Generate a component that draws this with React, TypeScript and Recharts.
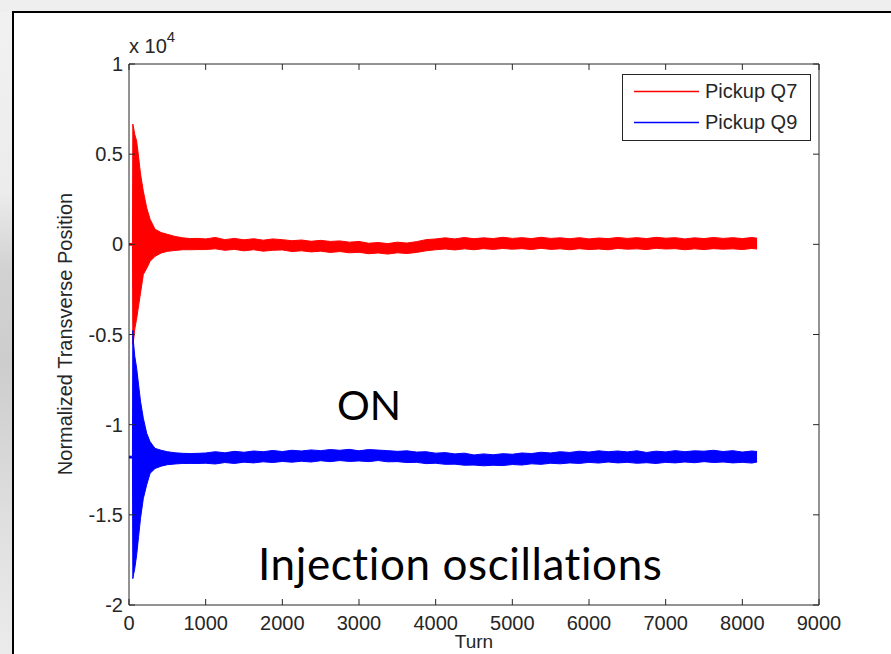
import React from "react";
import { ComposedChart, Area, XAxis, YAxis, Legend, ReferenceLine } from "recharts";

// turn numbers where the envelope of each pickup signal was read
const turns = [
  0, 45, 50, 60, 75, 100, 125, 150, 187, 231, 275, 340, 420, 500, 600, 700, 800, 900,
  1000, 1125, 1250, 1375, 1500, 1625, 1750, 1875,
  2000, 2125, 2250, 2375, 2500, 2625, 2750, 2875,
  3000, 3125, 3250, 3375, 3500, 3625, 3750, 3875,
  4000, 4125, 4250, 4375, 4500, 4625, 4750, 4875,
  5000, 5125, 5250, 5375, 5500, 5625, 5750, 5875,
  6000, 6125, 6250, 6375, 6500, 6625, 6750, 6875,
  7000, 7125, 7250, 7375, 7500, 7625, 7750, 7875,
  8000, 8125, 8192,
];

// Pickup Q7 (red) upper / lower envelope
const q7High = [
  50, 50, 6667, 6450, 6100, 5720, 4850, 3900, 2944, 2017, 1390, 833, 650, 555, 440, 360, 320, 330,
  300, 380, 260, 330, 250, 310, 230, 300,
  260, 200, 240, 170, 220, 160, 190, 120,
  160, 60, 100, 40, 120, 70, 150, 260,
  300, 360, 300, 380, 310, 360, 320, 390,
  330, 370, 320, 390, 330, 360, 310, 370,
  300, 350, 320, 380, 330, 370, 320, 390,
  340, 370, 300, 360, 320, 380, 330, 370,
  320, 380, 340,
];
const q7Low = [
  -50, -50, -5555, -5300, -4700, -4110, -3400, -2700, -1670, -1330, -944, -667, -480, -390, -340, -300, -300, -290,
  -290, -250, -330, -280, -360, -300, -380, -330,
  -310, -400, -360, -420, -380, -450, -400, -470,
  -440, -520, -480, -540, -470, -510, -450, -360,
  -300, -260, -310, -250, -300, -240, -280, -230,
  -270, -240, -290, -220, -280, -250, -300, -240,
  -290, -260, -300, -230, -270, -250, -290, -220,
  -260, -240, -300, -250, -290, -240, -270, -250,
  -290, -230, -260,
];

// Pickup Q9 (blue) upper / lower envelope
const q9High = [
  -11750, -11750, -4778, -5500, -6200, -6870, -7800, -8700, -9650, -10480, -10944, -11315, -11420, -11500, -11560, -11590, -11600, -11590,
  -11570, -11500, -11560, -11480, -11530, -11460, -11500, -11430,
  -11490, -11420, -11460, -11400, -11440, -11380, -11420, -11370,
  -11450, -11380, -11410, -11440, -11480, -11450, -11520, -11500,
  -11580, -11550, -11620, -11580, -11680, -11620, -11670, -11610,
  -11640, -11570, -11600, -11530, -11570, -11500, -11540, -11470,
  -11520, -11450, -11500, -11460, -11510, -11450, -11540, -11470,
  -11510, -11440, -11500, -11450, -11470, -11420, -11490, -11440,
  -11520, -11460, -11490,
];
const q9Low = [
  -11850, -11850, -18540, -18300, -17980, -17220, -16200, -15200, -14090, -13330, -12700, -12430, -12300, -12220, -12180, -12150, -12150, -12150,
  -12140, -12180, -12100, -12150, -12080, -12120, -12060, -12100,
  -12040, -12080, -12030, -12070, -12000, -12050, -11990, -12040,
  -12010, -12050, -11990, -12060, -12050, -12100, -12090, -12160,
  -12140, -12200, -12190, -12250, -12240, -12280, -12250, -12270,
  -12210, -12240, -12170, -12200, -12140, -12170, -12120, -12150,
  -12090, -12130, -12070, -12120, -12090, -12140, -12110, -12150,
  -12090, -12120, -12070, -12110, -12050, -12100, -12070, -12120,
  -12090, -12130, -12070,
];

const seriesNames = ["Pickup Q7", "Pickup Q9"];
const seriesColors = ["#ff0000", "#0000ff"];

const xTicks = [0, 1000, 2000, 3000, 4000, 5000, 6000, 7000, 8000, 9000];
const yTicks = [-20000, -15000, -10000, -5000, 0, 5000, 10000];
const yTickLabels = ["-2", "-1.5", "-1", "-0.5", "0", "0.5", "1"];

const X_MAX = 9000;
const Y_MIN = -20000;
const Y_MAX = 10000;

const data = turns.map((t, i) => ({
  turn: t,
  q7: [q7Low[i], q7High[i]],
  q9: [q9Low[i], q9High[i]],
}));

const FONT = "'Liberation Sans', Arial, sans-serif";
const INK = "#262626";
const TICK = 6;
// inward tick length for the mirrored top/right ticks, in data units (~6px)
const TICK_Y = 330;
const TICK_X = 78;

const BottomTick = (props: any) => {
  const { x, y, payload } = props;
  return (
    <g>
      <line x1={x} y1={y} x2={x} y2={y - TICK} stroke={INK} />
      <text x={x} y={y + 25} textAnchor="middle" fontSize={20} fontFamily={FONT} fill={INK}>
        {payload.value}
      </text>
    </g>
  );
};

const LeftTick = (props: any) => {
  const { x, y, payload } = props;
  const idx = yTicks.indexOf(payload.value);
  return (
    <g>
      <line x1={x} y1={y} x2={x + TICK} y2={y} stroke={INK} />
      <text x={x - 6} y={y + 7} textAnchor="end" fontSize={20} fontFamily={FONT} fill={INK}>
        {yTickLabels[idx]}
      </text>
    </g>
  );
};

const LegendBox = () => (
  <div
    style={{
      width: 189,
      height: 67,
      border: `1px solid ${INK}`,
      background: "#fff",
      boxSizing: "border-box",
    }}
  >
    <svg width={187} height={65}>
      {seriesNames.map((name, i) => (
        <g key={name}>
          <line
            x1={11}
            x2={76}
            y1={16.5 + i * 31}
            y2={16.5 + i * 31}
            stroke={seriesColors[i]}
            strokeWidth={1.6}
          />
          <text x={82} y={23 + i * 31} fontSize={20} fontFamily={FONT} fill={INK}>
            {name}
          </text>
        </g>
      ))}
    </svg>
  </div>
);

export default function App() {
  return (
    <div
      style={{
        position: "absolute",
        left: 0,
        top: 0,
        width: 891,
        height: 654,
        overflow: "hidden",
        background: "#efefef",
      }}
    >
      <div
        style={{
          position: "absolute",
          left: 0,
          top: 12,
          width: 12,
          height: 642,
          background:
            "linear-gradient(#f1f1f1 0%, #ececec 28%, #d2d2d2 40%, #cdcdcd 55%, #dedede 78%, #ebebeb 100%)",
        }}
      />
      <div
        style={{
          position: "absolute",
          left: 12,
          top: 11,
          width: 900,
          height: 700,
          borderTop: "2px solid #000",
          borderLeft: "2px solid #000",
          background: "#fff",
        }}
      />
      <div style={{ position: "absolute", left: 0, top: 0 }}>
        <ComposedChart
          width={891}
          height={654}
          data={data}
          margin={{ top: 64, right: 72, bottom: 19, left: 69 }}
        >
          <XAxis
            dataKey="turn"
            type="number"
            domain={[0, X_MAX]}
            ticks={xTicks}
            allowDataOverflow
            height={30}
            tickSize={0}
            tickMargin={0}
            tickLine={false}
            axisLine={{ stroke: INK }}
            tick={BottomTick}
            interval={0}
          />
          <YAxis
            type="number"
            domain={[Y_MIN, Y_MAX]}
            ticks={yTicks}
            allowDataOverflow
            width={60}
            tickSize={0}
            tickMargin={0}
            tickLine={false}
            axisLine={{ stroke: INK }}
            tick={LeftTick}
            interval={0}
          />
          <Legend
            layout="vertical"
            align="center"
            verticalAlign="middle"
            content={LegendBox}
            wrapperStyle={{ left: 622, top: 74, width: 189, height: 67 }}
          />
          <Area
            name={seriesNames[0]}
            dataKey="q7"
            type="linear"
            stroke={seriesColors[0]}
            strokeWidth={1}
            fill={seriesColors[0]}
            fillOpacity={1}
            dot={false}
            activeDot={false}
            isAnimationActive={false}
          />
          <Area
            name={seriesNames[1]}
            dataKey="q9"
            type="linear"
            stroke={seriesColors[1]}
            strokeWidth={1}
            fill={seriesColors[1]}
            fillOpacity={1}
            dot={false}
            activeDot={false}
            isAnimationActive={false}
          />
          {/* box: top and right frame with mirrored inward ticks */}
          <ReferenceLine y={Y_MAX} stroke={INK} />
          <ReferenceLine x={X_MAX} stroke={INK} />
          {xTicks.map((t) => (
            <ReferenceLine
              key={`tx${t}`}
              segment={[
                { x: t, y: Y_MAX },
                { x: t, y: Y_MAX - TICK_Y },
              ]}
              stroke={INK}
            />
          ))}
          {yTicks.map((v) => (
            <ReferenceLine
              key={`ty${v}`}
              segment={[
                { x: X_MAX, y: v },
                { x: X_MAX - TICK_X, y: v },
              ]}
              stroke={INK}
            />
          ))}
        </ComposedChart>
      </div>
      <svg
        width={891}
        height={654}
        style={{ position: "absolute", left: 0, top: 0, pointerEvents: "none" }}
      >
        <text x={129} y={53} fontSize={20} fontFamily={FONT} fill={INK}>
          x 10
          <tspan fontSize={15} dy={-11}>4</tspan>
        </text>
        <text
          transform="translate(72, 334) rotate(-90)"
          textAnchor="middle"
          fontSize={20}
          fontFamily={FONT}
          fill={INK}
        >
          Normalized Transverse Position
        </text>
        <text x={474} y={648} textAnchor="middle" fontSize={19} fontFamily={FONT} fill={INK}>
          Turn
        </text>
        <text x={337} y={420} fontSize={41} fontFamily="Lato, 'Open Sans', sans-serif" fill="#000">
          ON
        </text>
        <text
          x={258}
          y={580}
          fontSize={44}
          letterSpacing={0.6}
          style={{ fontVariantLigatures: "none" }}
          fontFamily="Lato, 'Open Sans', sans-serif"
          fill="#000"
        >
          Injection oscillations
        </text>
      </svg>
    </div>
  );
}
